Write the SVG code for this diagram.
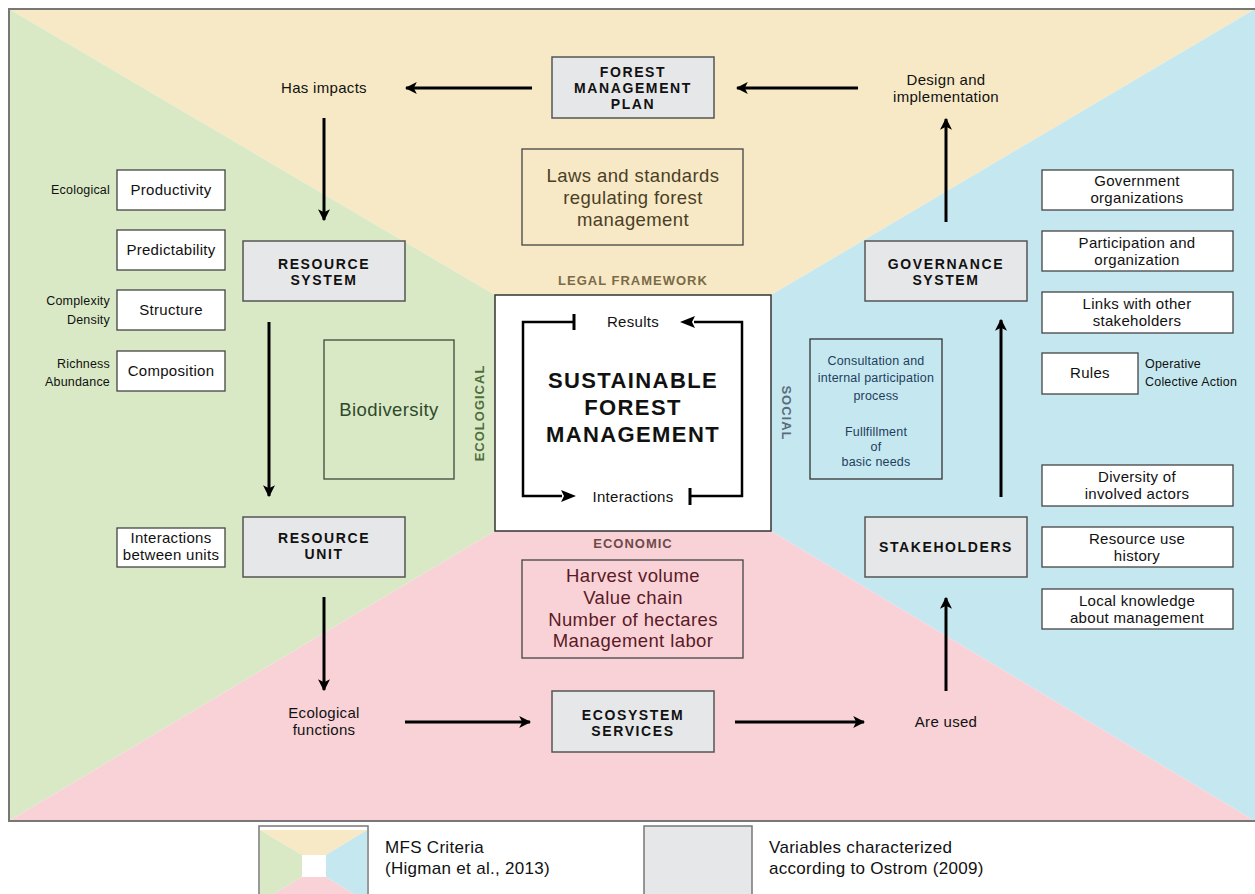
<svg xmlns="http://www.w3.org/2000/svg" width="1255" height="894" viewBox="0 0 1255 894">
<defs>
<marker id="ah" viewBox="0 0 10 10" refX="9" refY="5" markerWidth="4" markerHeight="4" orient="auto" markerUnits="strokeWidth">
<path d="M0,0 L10,5 L0,10 L2.5,5 z" fill="#000"/>
</marker>
<style>
.t{font-family:"Liberation Sans",Arial,sans-serif;font-size:15px;fill:#111;text-anchor:middle;letter-spacing:0.3px}
.s{font-family:"Liberation Sans",Arial,sans-serif;font-size:12.5px;fill:#111;letter-spacing:0.2px}
.h{font-family:"Liberation Sans",Arial,sans-serif;font-size:14px;font-weight:bold;fill:#111;text-anchor:middle;letter-spacing:1.6px}
.g{fill:#E6E7E9;stroke:#555;stroke-width:1.5}
.w{fill:#fff;stroke:#444;stroke-width:1.3}
.big{font-family:"Liberation Sans",Arial,sans-serif;font-size:18.5px;text-anchor:middle;letter-spacing:0.4px}
.lab{font-family:"Liberation Sans",Arial,sans-serif;font-size:13px;font-weight:bold;text-anchor:middle;letter-spacing:1px}
.ar{stroke:#000;stroke-width:3;fill:none;marker-end:url(#ah)}
.ln{stroke:#000;stroke-width:2.5;fill:none}
.leg{font-family:"Liberation Sans",Arial,sans-serif;font-size:17px;fill:#111;letter-spacing:0.3px}
</style>
</defs>
<g id="background">
<rect x="0" y="0" width="1255" height="894" fill="#fff"/>
<polygon points="9,9 1255,9 771,295 495,295" fill="#F7E9C5"/>
<polygon points="9,9 495,295 495,531 9,821" fill="#D9E9C6"/>
<polygon points="1255,9 1255,821 771,531 771,295" fill="#C5E8F0"/>
<polygon points="9,821 495,531 771,531 1255,821" fill="#F9D2D7"/>
<path d="M1258,9 H9 V821 H1258" fill="none" stroke="#777" stroke-width="2"/>
</g>
<g id="forest-management-plan">
<rect class="g" x="552" y="57" width="162" height="61"/>
<text class="h" x="633" y="77">FOREST<tspan x="633" dy="16">MANAGEMENT</tspan><tspan x="633" dy="16">PLAN</tspan></text>
</g>
<g id="has-impacts"><text class="t" x="324" y="93">Has impacts</text></g>
<g id="design-implementation">
<text class="t" x="946" y="85">Design and<tspan x="946" dy="17">implementation</tspan></text>
</g>
<g id="laws">
<rect x="522" y="149" width="221" height="96" fill="none" stroke="#444" stroke-width="1.3"/>
<text class="big" x="633" y="182" fill="#4B3E26">Laws and standards<tspan x="633" dy="22">regulating forest</tspan><tspan x="633" dy="22">management</tspan></text>
</g>
<g id="legal-framework"><text class="lab" x="633" y="285" fill="#7A6A48">LEGAL FRAMEWORK</text></g>
<g id="sfm">
<rect x="495" y="295" width="276" height="236" fill="#fff" stroke="#333" stroke-width="1.5"/>
<text class="t" x="633" y="327">Results</text>
<text class="t" x="633" y="502">Interactions</text>
<text class="h" x="633" y="388" style="font-size:22px;letter-spacing:1.4px">SUSTAINABLE<tspan x="633" dy="27">FOREST</tspan><tspan x="633" dy="27">MANAGEMENT</tspan></text>
</g>
<g id="ecological-label"><text class="lab" transform="translate(484,413) rotate(-90)" fill="#4F6E3A">ECOLOGICAL</text></g>
<g id="social-label"><text class="lab" transform="translate(782,413) rotate(90)" fill="#5A6B7C">SOCIAL</text></g>
<g id="economic-label"><text class="lab" x="633" y="548" fill="#6E4A4A">ECONOMIC</text></g>
<g id="resource-system">
<rect class="g" x="243" y="241" width="162" height="60"/>
<text class="h" x="324" y="269">RESOURCE<tspan x="324" dy="16">SYSTEM</tspan></text>
</g>
<g id="productivity">
<rect class="w" x="117" y="170" width="108" height="40"/>
<text class="t" x="171" y="195">Productivity</text>
<text class="s" x="110" y="194" text-anchor="end">Ecological</text>
</g>
<g id="predictability">
<rect class="w" x="117" y="230" width="108" height="40"/>
<text class="t" x="171" y="255">Predictability</text>
</g>
<g id="structure">
<rect class="w" x="117" y="290" width="108" height="40"/>
<text class="t" x="171" y="315">Structure</text>
<text class="s" x="110" y="305" text-anchor="end">Complexity<tspan x="110" dy="19">Density</tspan></text>
</g>
<g id="composition">
<rect class="w" x="117" y="351" width="108" height="40"/>
<text class="t" x="171" y="376">Composition</text>
<text class="s" x="110" y="368" text-anchor="end">Richness<tspan x="110" dy="18">Abundance</tspan></text>
</g>
<g id="biodiversity">
<rect x="324" y="340" width="130" height="139" fill="none" stroke="#3A4A3A" stroke-width="1.3"/>
<text class="big" x="389" y="416" fill="#2F4A2A">Biodiversity</text>
</g>
<g id="resource-unit">
<rect class="g" x="243" y="517" width="162" height="60"/>
<text class="h" x="324" y="543">RESOURCE<tspan x="324" dy="16">UNIT</tspan></text>
</g>
<g id="interactions-units">
<rect class="w" x="117" y="528" width="108" height="39"/>
<text class="t" x="171" y="543">Interactions<tspan x="171" dy="17">between units</tspan></text>
</g>
<g id="ecological-functions">
<text class="t" x="324" y="718">Ecological<tspan x="324" dy="17">functions</tspan></text>
</g>
<g id="economic-box">
<rect x="522" y="560" width="221" height="98" fill="none" stroke="#444" stroke-width="1.3"/>
<text class="big" x="633" y="582" fill="#5A1A26">Harvest volume<tspan x="633" dy="22">Value chain</tspan><tspan x="633" dy="22">Number of hectares</tspan><tspan x="633" dy="21">Management labor</tspan></text>
</g>
<g id="ecosystem-services">
<rect class="g" x="552" y="691" width="162" height="61"/>
<text class="h" x="633" y="720">ECOSYSTEM<tspan x="633" dy="16">SERVICES</tspan></text>
</g>
<g id="are-used"><text class="t" x="946" y="727">Are used</text></g>
<g id="stakeholders">
<rect class="g" x="865" y="517" width="162" height="60"/>
<text class="h" x="946" y="552">STAKEHOLDERS</text>
</g>
<g id="governance-system">
<rect class="g" x="865" y="241" width="162" height="60"/>
<text class="h" x="946" y="269">GOVERNANCE<tspan x="946" dy="16">SYSTEM</tspan></text>
</g>
<g id="consultation">
<rect x="810" y="339" width="132" height="140" fill="none" stroke="#333" stroke-width="1.3"/>
<text class="s" x="876" y="365" style="text-anchor:middle;fill:#1F3D5C">Consultation and<tspan x="876" dy="17">internal participation</tspan><tspan x="876" dy="18">process</tspan><tspan x="876" dy="36">Fullfillment</tspan><tspan x="876" dy="15">of</tspan><tspan x="876" dy="14.5">basic needs</tspan></text>
</g>
<g id="government-organizations">
<rect class="w" x="1042" y="170" width="191" height="40"/>
<text class="t" x="1137" y="186">Government<tspan x="1137" dy="17">organizations</tspan></text>
</g>
<g id="participation">
<rect class="w" x="1042" y="231" width="191" height="40"/>
<text class="t" x="1137" y="248">Participation and<tspan x="1137" dy="17">organization</tspan></text>
</g>
<g id="links">
<rect class="w" x="1042" y="292" width="191" height="41"/>
<text class="t" x="1137" y="309">Links with other<tspan x="1137" dy="17">stakeholders</tspan></text>
</g>
<g id="rules">
<rect class="w" x="1042" y="353" width="96" height="41"/>
<text class="t" x="1090" y="378">Rules</text>
<text class="s" x="1145" y="368">Operative<tspan x="1145" dy="18">Colective Action</tspan></text>
</g>
<g id="diversity">
<rect class="w" x="1042" y="465" width="191" height="41"/>
<text class="t" x="1137" y="482">Diversity of<tspan x="1137" dy="17">involved actors</tspan></text>
</g>
<g id="resource-use">
<rect class="w" x="1042" y="527" width="191" height="40"/>
<text class="t" x="1137" y="544">Resource use<tspan x="1137" dy="17">history</tspan></text>
</g>
<g id="local-knowledge">
<rect class="w" x="1042" y="589" width="191" height="40"/>
<text class="t" x="1137" y="606">Local knowledge<tspan x="1137" dy="17">about management</tspan></text>
</g>
<g id="legend-mfs">
<rect x="259" y="826" width="109" height="70" fill="#fff" stroke="#777" stroke-width="1.5"/>
<polygon points="260,830 367,830 326,855 302,855" fill="#F7E9C5"/>
<polygon points="260,830 302,855 302,877 260,902" fill="#D9E9C6"/>
<polygon points="367,830 367,902 326,877 326,855" fill="#C5E8F0"/>
<polygon points="260,902 302,877 326,877 367,902" fill="#F9D2D7"/>
<text class="leg" x="385" y="853">MFS Criteria<tspan x="385" dy="21">(Higman et al., 2013)</tspan></text>
</g>
<g id="legend-ostrom">
<rect x="644" y="826" width="108" height="70" fill="#E6E7E9" stroke="#777" stroke-width="1.5"/>
<text class="leg" x="769" y="853">Variables characterized<tspan x="769" dy="21">according to Ostrom (2009)</tspan></text>
</g>
<g id="connectors">
<line class="ar" x1="532" y1="88" x2="406" y2="88"/>
<line class="ar" x1="858" y1="88" x2="737" y2="88"/>
<line class="ar" x1="946" y1="222" x2="946" y2="119"/>
<line class="ar" x1="324" y1="118" x2="324" y2="220"/>
<line class="ar" x1="269" y1="322" x2="269" y2="496"/>
<line class="ar" x1="324" y1="597" x2="324" y2="690"/>
<line class="ar" x1="405" y1="722" x2="530" y2="722"/>
<line class="ar" x1="735" y1="722" x2="864" y2="722"/>
<line class="ar" x1="946" y1="691" x2="946" y2="598"/>
<line class="ar" x1="1001" y1="497" x2="1001" y2="320"/>
<path class="ln" d="M574,322 H523 V496 H562"/>
<path d="M576,496 L561,490 L564,496 L561,502 z" fill="#000"/>
<line x1="574" y1="314" x2="574" y2="330" stroke="#000" stroke-width="3"/>
<path class="ln" d="M690,496 H742 V322 H694"/>
<path d="M680,322 L695,316 L692,322 L695,328 z" fill="#000"/>
<line x1="690" y1="488" x2="690" y2="505" stroke="#000" stroke-width="3"/>
</g>
</svg>
